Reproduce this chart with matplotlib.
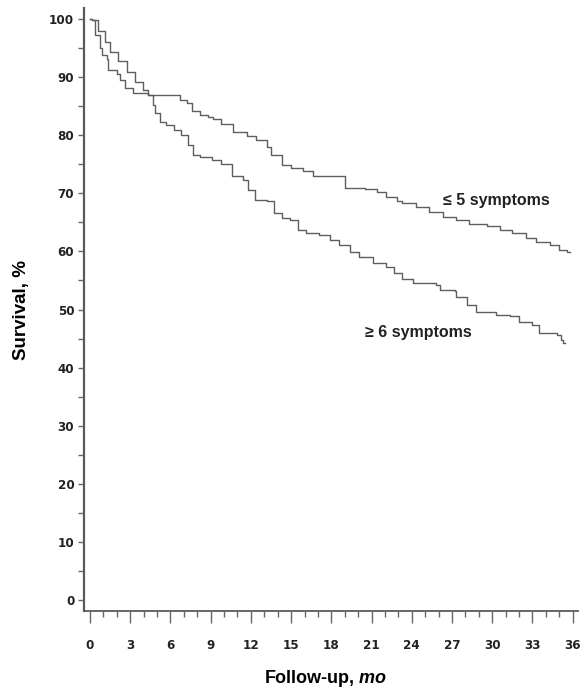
import matplotlib.pyplot as plt
from matplotlib import font_manager
from matplotlib.ticker import MultipleLocator

# Kaplan-Meier style survival curves (month, % surviving)
months_le5 = [0, 0.12, 0.37, 0.75, 0.87, 1.24, 1.37, 1.99, 2.24, 2.61, 3.23, 4.35,
              6.2, 6.7, 7.2, 7.6, 8.2, 8.8, 9.2, 9.8, 10.7, 11.7, 12.4, 13.2, 13.5,
              14.3, 15.0, 15.9, 16.6, 18.1, 19.0, 20.5, 21.4, 22.1, 22.9, 23.3,
              24.3, 25.3, 26.3, 27.3, 28.3, 29.6, 30.6, 31.5, 32.5, 33.3, 34.3,
              35.0, 35.6, 35.8]
surv_le5 = [100, 99.8, 97.2, 95.0, 93.8, 93.2, 91.2, 90.6, 89.5, 88.1, 87.2, 87.0,
            87.0, 86.1, 85.5, 84.1, 83.5, 83.2, 82.8, 82.0, 80.6, 79.8, 79.2, 78.0,
            76.6, 74.9, 74.3, 73.8, 73.0, 73.0, 70.9, 70.7, 70.3, 69.4, 68.6, 68.3,
            67.7, 66.8, 66.0, 65.4, 64.8, 64.3, 63.7, 63.1, 62.3, 61.7, 61.1, 60.2,
            59.9, 59.9]

months_ge6 = [0, 0.12, 0.6, 1.12, 1.49, 2.1, 2.73, 3.35, 3.97, 4.35, 4.7, 4.84, 5.2,
              5.7, 6.3, 6.8, 7.3, 7.7, 8.2, 9.1, 9.8, 10.6, 11.4, 11.8, 12.3, 13.2,
              13.7, 14.3, 14.9, 15.5, 16.1, 17.1, 17.9, 18.6, 19.4, 20.1, 21.1,
              22.1, 22.7, 23.3, 24.1, 25.8, 26.1, 27.2, 27.3, 28.1, 28.8, 30.3,
              31.3, 32.0, 33.0, 33.5, 34.8, 35.1, 35.3, 35.45]
surv_ge6 = [100, 99.8, 98.0, 96.1, 94.4, 92.7, 90.9, 89.2, 87.8, 86.9, 85.2, 83.8,
            82.3, 81.8, 80.9, 80.0, 78.3, 76.6, 76.3, 75.7, 75.1, 72.9, 72.3, 70.6,
            68.8, 68.6, 66.6, 65.7, 65.4, 63.7, 63.1, 62.8, 62.0, 61.1, 59.9, 59.1,
            58.0, 57.4, 56.2, 55.3, 54.5, 54.2, 53.4, 53.1, 52.2, 50.8, 49.6, 49.1,
            48.8, 47.9, 47.3, 45.9, 45.6, 44.8, 44.2, 44.2]

x_ticks = list(range(0, 37, 3))
y_ticks = list(range(0, 101, 10))

regular = ['Liberation Sans', 'DejaVu Sans']

# look for a condensed bold face for the tick numbers
tick_font = None
for f in font_manager.findSystemFonts():
    name = f.split('/')[-1]
    if name in ('LiberationSansNarrow-Bold.ttf', 'DejaVuSansCondensed-Bold.ttf'):
        tick_font = font_manager.FontProperties(fname=f, size=9.5)
        if 'Liberation' in name:
            break
if tick_font is None:
    tick_font = font_manager.FontProperties(family=regular, weight='bold', size=9.5)

plt.rcParams['mathtext.fontset'] = 'custom'
plt.rcParams['mathtext.it'] = 'Liberation Sans:italic:bold'

fig = plt.figure(figsize=(5.81, 6.93), dpi=100)
ax = fig.add_axes([84 / 581, 1 - 611 / 693, 494 / 581, 603 / 693])

ax.plot(months_le5, surv_le5, drawstyle='steps-post', color='#5e5e5e', lw=1.0)
ax.plot(months_ge6, surv_ge6, drawstyle='steps-post', color='#5e5e5e', lw=1.0)

ax.set_xlim(-0.45, 36.4)
ax.set_ylim(-1.9, 101.9)

for side in ['top', 'right']:
    ax.spines[side].set_visible(False)
ax.spines['left'].set_color('#5a5a5a')
ax.spines['left'].set_linewidth(1.6)
ax.spines['bottom'].set_color('#5a5a5a')
ax.spines['bottom'].set_linewidth(1.3)

ax.set_xticks(x_ticks)
ax.set_xticklabels([str(t) for t in x_ticks])
ax.xaxis.set_minor_locator(MultipleLocator(1))
ax.set_yticks(y_ticks)
ax.set_yticklabels([str(t) for t in y_ticks])
ax.yaxis.set_minor_locator(MultipleLocator(5))

ax.tick_params(axis='x', which='major', length=8.5, width=1.0, color='#666666',
               pad=12, direction='out')
ax.tick_params(axis='x', which='minor', length=4.5, width=1.0, color='#666666',
               direction='out')
ax.tick_params(axis='y', which='both', length=4, width=1.0, color='#666666',
               pad=3, direction='out')

for lab in ax.get_xticklabels() + ax.get_yticklabels():
    lab.set_fontproperties(tick_font)
    lab.set_color('#222222')

ax.set_ylabel('Survival, %', family=regular, fontweight='bold', fontsize=13.5)
ax.yaxis.set_label_coords(-0.11, 0.5)
ax.set_xlabel(r'Follow-up, $\mathit{mo}$', family=regular, fontweight='bold',
              fontsize=13)
ax.xaxis.set_label_coords(0.49, -0.095)

ax.text(26.3, 68.8, '≤ 5 symptoms', family=regular, fontweight='bold',
        fontsize=11.5, color='#222222', va='center', ha='left')
ax.text(20.5, 46.0, '≥ 6 symptoms', family=regular, fontweight='bold',
        fontsize=11.5, color='#222222', va='center', ha='left')

fig.savefig('out.png', dpi=100)
